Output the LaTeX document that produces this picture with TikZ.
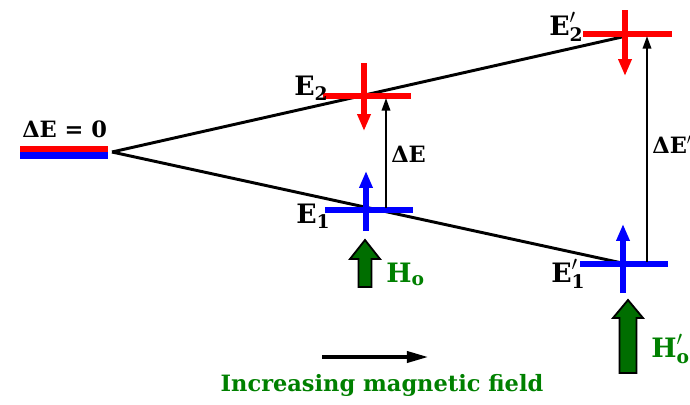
\documentclass[tikz,border=0pt]{standalone}
\usepackage{amsmath}
\usepackage{fontspec}
\setmainfont{DejaVu Serif}
\usetikzlibrary{arrows.meta}

\definecolor{fieldgreen}{RGB}{0,128,0}
\definecolor{fielddark}{RGB}{0,110,0}

\newcommand{\lvl}[3]{$\text{\bfseries #1}#3_{\text{\bfseries #2}}$}

\begin{document}
\begin{tikzpicture}[x=0.025cm,y=-0.025cm,
  level/.style={line width=4.6pt},
  fan/.style={line width=2.1pt},
  spin/.style={line width=4pt,-{Triangle[length=12pt,width=9pt]}},
  gap/.style={line width=1.5pt,-{Triangle[length=9pt,width=6pt]}},
  lbl/.style={font=\fontsize{19}{19}\selectfont\bfseries,inner sep=0pt},
  gaplbl/.style={font=\fontsize{16}{16}\selectfont\bfseries,inner sep=0pt},
  fieldarrow/.style={draw=black,line width=1.3pt,fill=fielddark,line join=miter}]

\useasboundingbox (0,0) rectangle (690,404);

% Zero field: degenerate level
\draw[level,red] (20,149) -- (108,149);
\draw[level,blue] (20,155.5) -- (108,155.5);
\node[gaplbl,anchor=base west] (zerolbl) at (22,137) {ΔE = 0};

% Splitting lines
\coordinate (zero) at (112,152);
\coordinate (upend) at (622,37);
\coordinate (lowend) at (622,263);
\draw[fan] (zero) -- (upend);
\draw[fan] (zero) -- (lowend);

% Levels at H_o
\draw[level,red] (323,96) -- (411,96);
\draw[level,blue] (325,210) -- (413,210);
\draw[spin,red] (364,63) -- (364,131);
\draw[spin,blue] (366,231) -- (366,171);
\node[lbl,anchor=base west] (E2) at (294,95) {\lvl{E}{2}{}};
\node[lbl,anchor=base west] (E1) at (296,223) {\lvl{E}{1}{}};

% Levels at H_o'
\draw[level,red] (583,34) -- (672,34);
\draw[level,blue] (580,264) -- (668,264);
\draw[spin,red] (625,10) -- (625,76);
\draw[spin,blue] (623,293) -- (623,224);
\node[lbl,anchor=base west] (E2p) at (549,35) {\lvl{E}{2}{'}};
\node[lbl,anchor=base west] (E1p) at (551,282) {\lvl{E}{1}{'}};

% Energy gaps
\coordinate (gapA) at (386,208);
\coordinate (gapAtop) at (386,98);
\coordinate (gapB) at (647,262);
\coordinate (gapBtop) at (647,36);
\draw[gap] (gapA) -- (gapAtop);
\draw[gap] (gapB) -- (gapBtop);
\node[gaplbl,anchor=base west] (dE) at (391,162) {ΔE};
\node[gaplbl,anchor=base west] (dEp) at (652,153) {ΔE$'$};

% Applied fields
\coordinate (Ho) at (365,240);
\coordinate (Hop) at (628,300);
\filldraw[fieldarrow] (Ho) -- ++(15,19) -- ++(-8.5,0) -- ++(0,28) -- ++(-13,0)
  -- ++(0,-28) -- ++(-8.5,0) -- cycle;
\filldraw[fieldarrow] (Hop) -- ++(15,18) -- ++(-6.5,0) -- ++(0,55) -- ++(-17,0)
  -- ++(0,-55) -- ++(-6.5,0) -- cycle;
\node[lbl,text=fieldgreen,anchor=base west] (Holbl) at (386,282) {\lvl{H}{o}{}};
\node[lbl,text=fieldgreen,anchor=base west] (Hoplbl) at (651,357) {\lvl{H}{o}{'}};

% Direction of increasing field
\coordinate (fstart) at (322,357);
\coordinate (fend) at (428,357);
\draw[line width=2.2pt,-{Triangle[length=15pt,width=8pt]}] (fstart) -- (fend);
\node[font=\fontsize{16}{16}\selectfont\bfseries,text=fieldgreen] (caption) at (382,385) {Increasing magnetic field};

\end{tikzpicture}
\end{document}
